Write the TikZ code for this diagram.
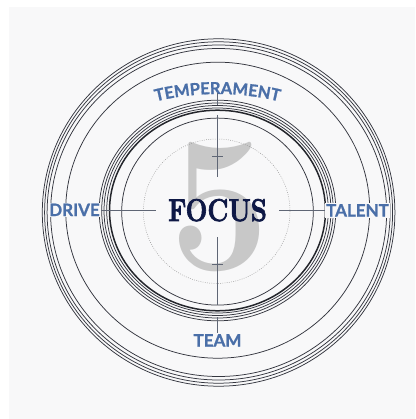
\documentclass[tikz,border=0pt]{standalone}
\usepackage{fontspec}
\usetikzlibrary{decorations.text}
\newfontfamily\labelfont{Lato}[BoldFeatures={FakeBold=1}]
\newfontfamily\focusfont{Latin Modern Roman}[BoldFeatures={FakeBold=2.5}]
\newfontfamily\numeralfont{Latin Modern Roman}
\definecolor{bggray}{HTML}{F8F8F9}
\definecolor{labelblue}{HTML}{4A6FA8}
\definecolor{focusnavy}{HTML}{0E1845}
\definecolor{ringcol}{HTML}{34363F}
\definecolor{axiscol}{HTML}{5F6675}
\definecolor{fivegray}{HTML}{C8C8C8}

\begin{document}
\begin{tikzpicture}[x=1pt,y=-1pt,
  ring/.style={draw=ringcol,line width=0.75pt},
  thickring/.style={draw=ringcol!70!black,line width=1.5pt},
  guide/.style={draw=gray!80,line width=0.5pt,dash pattern=on 0.8pt off 1.4pt},
  axisline/.style={draw=axiscol,line width=1pt},
  cardinal/.style={font=\labelfont\bfseries\fontsize{17}{17}\selectfont,
    text=labelblue,fill=bggray,inner sep=1pt,anchor=base},
]
\useasboundingbox (0,0) rectangle (415,419);
\fill[white] (0,0) rectangle (415,419);
\fill[bggray] (9,7) rectangle (415,419);

% large numeral behind everything
\node[font=\numeralfont\bfseries\fontsize{194}{194}\selectfont,text=fivegray,anchor=base,
  xscale=0.92,inner sep=0] (five) at (219.5,269) {5};

% outer rings
\draw[ring] (218.6,212.5) ellipse [x radius=176.3, y radius=173.7];
\draw[ring] (218.6,212.5) ellipse [x radius=174.0, y radius=170.7];
\draw[ring] (218.6,212.5) ellipse [x radius=171.5, y radius=167.5];
\draw[ring] (218.6,212.5) ellipse [x radius=168.0, y radius=164.0];
\draw[ring] (217.7,210.2) ellipse [x radius=152.0, y radius=148.0];

% inner ring group
\draw[ring] (217.5,210.5) ellipse [x radius=118.3, y radius=110.3];
\draw[ring] (217.5,210.5) ellipse [x radius=115.8, y radius=107.5];
\draw[ring] (217.5,210.5) ellipse [x radius=113.5, y radius=105.0];
\draw[ring] (217.5,210.5) ellipse [x radius=110.8, y radius=102.5];
\draw[thickring] (217.5,210.5) ellipse [x radius=108.0, y radius=100.3];
\draw[ring] (217.5,211.6) ellipse [x radius=95.8, y radius=93.5];

% dotted guide circle
\draw[guide] (216.7,211.2) ellipse [x radius=73.3, y radius=72.2];

% centre word
\node[font=\focusfont\bfseries\fontsize{31.5}{31.5}\selectfont,text=focusnavy,anchor=base,
  xscale=0.82,inner sep=0] (focus) at (217.5,221) {FOCUS};

% cardinal labels
\node[cardinal] (drive) at (74.5,216) {DRIVE};
\node[cardinal] (talent) at (357.5,216.5) {TALENT};
\node[cardinal] (team) at (217.5,346.5) {TEAM};
\path[decorate,decoration={text along path,
    text={|\labelfont\bfseries\fontsize{16.5}{16.5}\selectfont\color{labelblue}|TEMPERAMENT},
    text align=center},shift={(217.5,354)}]
  (-112:260) arc[start angle=-112, end angle=-68, radius=260];

% cross-hair coordinates
\coordinate (hl) at (156,210.5);
\coordinate (hr) at (279,210.5);
\coordinate (t0) at (217.5,93);
\coordinate (t1) at (217.5,105);
\coordinate (t2) at (217.5,115);
\coordinate (t3) at (217.5,177);
\coordinate (b0) at (217.5,237);
\coordinate (b1) at (217.5,305);
\coordinate (b2) at (217.5,317);
\coordinate (tickt) at (217.5,156.5);
\coordinate (tickb) at (217.5,264.3);

% cross-hair
\draw[axisline] (drive.east |- hl) -- (hl);
\draw[axisline] (hr) -- (talent.west |- hr);
\draw[axisline] (t0) -- (t1);
\draw[axisline] (t2) -- (t3);
\draw[axisline] (b0) -- (b1);
\draw[axisline] (b2) -- (team.north);
\draw[axisline] ([xshift=-5.5pt]tickt) -- ([xshift=5.5pt]tickt);
\draw[axisline] ([xshift=-5.5pt]tickb) -- ([xshift=5.5pt]tickb);
\end{tikzpicture}
\end{document}
